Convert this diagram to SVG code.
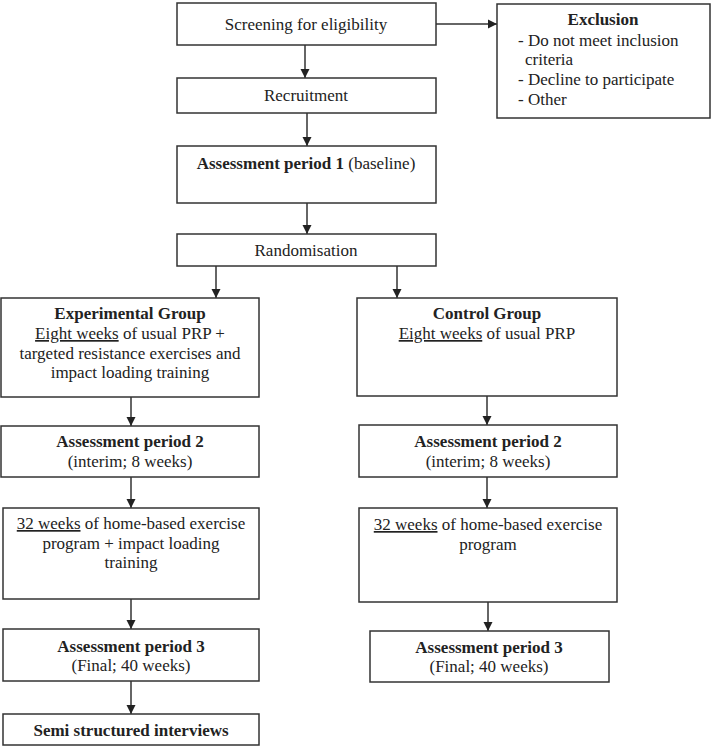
<svg xmlns="http://www.w3.org/2000/svg" width="712" height="746" viewBox="0 0 712 746">
<style>
.box{fill:#fff;stroke:#333;stroke-width:1.5}
text{font-family:"Liberation Serif","Times New Roman",serif;font-size:17px;fill:#222}
.c{text-anchor:middle}
.b{font-weight:bold}
.u{text-decoration:underline}
.ln{stroke:#333;stroke-width:1.5;fill:none;marker-end:url(#ah)}
</style>
<defs>
<marker id="ah" markerWidth="10" markerHeight="10" refX="9" refY="5" orient="auto" markerUnits="userSpaceOnUse">
<path d="M0,0.5 L9,5 L0,9.5 Z" fill="#222"/>
</marker>
</defs>
<rect width="712" height="746" fill="#fff"/>
<g id="connectors">
<line class="ln" x1="436" y1="24" x2="497" y2="24"/>
<line class="ln" x1="305" y1="45" x2="305" y2="78"/>
<line class="ln" x1="307" y1="113" x2="307" y2="146"/>
<line class="ln" x1="307" y1="203" x2="307" y2="234"/>
<line class="ln" x1="216" y1="266" x2="216" y2="298"/>
<line class="ln" x1="397" y1="266" x2="397" y2="298"/>
<line class="ln" x1="131" y1="397" x2="131" y2="426"/>
<line class="ln" x1="487" y1="396" x2="487" y2="425"/>
<line class="ln" x1="131" y1="477" x2="131" y2="508"/>
<line class="ln" x1="487" y1="477" x2="487" y2="508"/>
<line class="ln" x1="131" y1="599" x2="131" y2="629"/>
<line class="ln" x1="488" y1="602" x2="488" y2="631"/>
<line class="ln" x1="131" y1="681" x2="131" y2="714"/>
</g>
<g id="screening">
<rect class="box" x="177" y="3" width="259" height="42"/>
<text class="c" x="306" y="30">Screening for eligibility</text>
</g>
<g id="exclusion">
<rect class="box" x="497" y="4" width="213" height="114"/>
<text class="c b" x="603" y="25">Exclusion</text>
<text x="518" y="46">- Do not meet inclusion</text>
<text x="525" y="65">criteria</text>
<text x="518" y="85">- Decline to participate</text>
<text x="518" y="105">- Other</text>
</g>
<g id="recruitment">
<rect class="box" x="177" y="78" width="259" height="35"/>
<text class="c" x="306" y="101">Recruitment</text>
</g>
<g id="assessment1">
<rect class="box" x="177" y="146" width="259" height="57"/>
<text class="c" x="306" y="169"><tspan class="b">Assessment period 1</tspan> (baseline)</text>
</g>
<g id="randomisation">
<rect class="box" x="177" y="234" width="259" height="32"/>
<text class="c" x="306" y="256">Randomisation</text>
</g>
<g id="experimental">
<rect class="box" x="1" y="298" width="258" height="99"/>
<text class="c b" x="130" y="319">Experimental Group</text>
<text class="c" x="130" y="339"><tspan class="u">Eight weeks</tspan> of usual PRP +</text>
<text class="c" x="130" y="359">targeted resistance exercises and</text>
<text class="c" x="130" y="378">impact loading training</text>
</g>
<g id="control">
<rect class="box" x="357" y="298" width="260" height="98"/>
<text class="c b" x="487" y="319">Control Group</text>
<text class="c" x="487" y="339"><tspan class="u">Eight weeks</tspan> of usual PRP</text>
</g>
<g id="exp-assessment2">
<rect class="box" x="1" y="426" width="258" height="51"/>
<text class="c b" x="130" y="447">Assessment period 2</text>
<text class="c" x="130" y="467">(interim; 8 weeks)</text>
</g>
<g id="ctl-assessment2">
<rect class="box" x="359" y="425" width="258" height="52"/>
<text class="c b" x="488" y="447">Assessment period 2</text>
<text class="c" x="488" y="467">(interim; 8 weeks)</text>
</g>
<g id="exp-home">
<rect class="box" x="3" y="508" width="256" height="91"/>
<text class="c" x="131" y="529"><tspan class="u">32 weeks</tspan> of home-based exercise</text>
<text class="c" x="131" y="549">program + impact loading</text>
<text class="c" x="131" y="568">training</text>
</g>
<g id="ctl-home">
<rect class="box" x="359" y="508" width="258" height="94"/>
<text class="c" x="488" y="530"><tspan class="u">32 weeks</tspan> of home-based exercise</text>
<text class="c" x="488" y="550">program</text>
</g>
<g id="exp-assessment3">
<rect class="box" x="3" y="629" width="256" height="52"/>
<text class="c b" x="131" y="652">Assessment period 3</text>
<text class="c" x="131" y="671">(Final; 40 weeks)</text>
</g>
<g id="ctl-assessment3">
<rect class="box" x="370" y="631" width="239" height="51"/>
<text class="c b" x="489" y="653">Assessment period 3</text>
<text class="c" x="489" y="672">(Final; 40 weeks)</text>
</g>
<g id="interviews">
<rect class="box" x="3" y="714" width="256" height="31"/>
<text class="c b" x="131" y="736">Semi structured interviews</text>
</g>
</svg>
